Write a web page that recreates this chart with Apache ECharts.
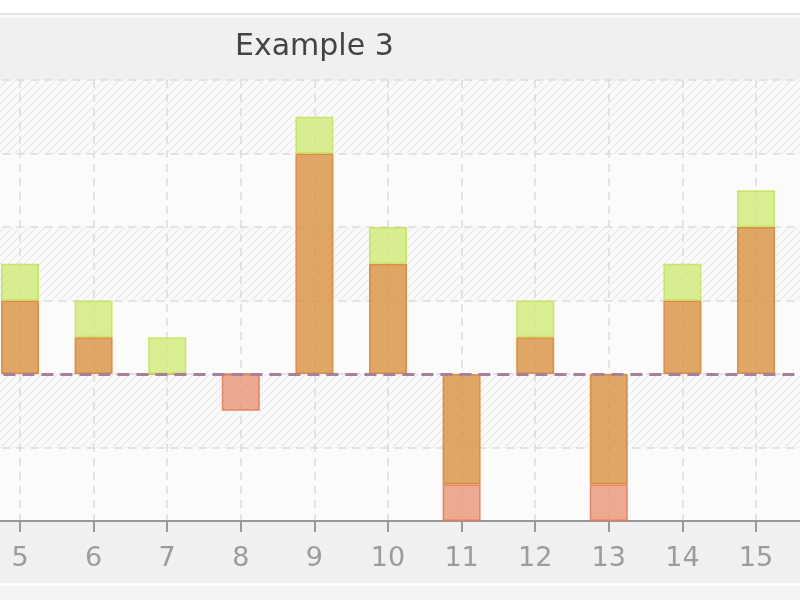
<!DOCTYPE html>
<html>
<head>
<meta charset="utf-8">
<script src="https://cdn.jsdelivr.net/npm/echarts@6/dist/echarts.min.js"></script>
<style>
html,body{margin:0;padding:0;background:#fff;}
#chart{width:800px;height:600px;}
</style>
</head>
<body>
<div id="chart"></div>
<script>
// ---- data (categories 4 and 16 fall outside the visible crop) ----
var categories = ['4', '5', '6', '7', '8', '9', '10', '11', '12', '13', '14', '15', '16'];
var seriesA = [null, 1, 0.5, 0, 0, 3, 1.5, -1.5, 0.5, -1.5, 1, 2, null];             // orange
var seriesB = [null, 0.5, 0.5, 0.5, null, 0.5, 0.5, null, 0.5, null, 0.5, 0.5, null]; // green
var seriesC = [null, null, null, null, -0.5, null, null, -0.5, null, -0.5, null, null, null]; // salmon
var titleText = 'Example 3';

// hatch pattern for alternate bands
var pc = document.createElement('canvas');
pc.width = 8; pc.height = 8;
var g = pc.getContext('2d');
g.fillStyle = '#fafafa';
g.fillRect(0, 0, 8, 8);
g.strokeStyle = '#e8e8e8';
g.lineWidth = 1.1;
g.beginPath();
g.moveTo(0, 8); g.lineTo(8, 0);
g.moveTo(-1, 1); g.lineTo(1, -1);
g.moveTo(7, 9); g.lineTo(9, 7);
g.stroke();

var chart = echarts.init(document.getElementById('chart'));
var dashGrid = { color: '#dcdcdc', width: 1.5, type: [8, 6] };

function barSeries(name, vals, color, border) {
  return {
    name: name,
    type: 'bar',
    stack: 'total',
    barWidth: 38,
    data: vals,
    itemStyle: { color: color, opacity: 0.85, borderColor: border, borderWidth: 1.5 },
    emphasis: { disabled: true },
    z: 2
  };
}

var s1 = barSeries('A', seriesA, '#d9964a', '#d9852e');
s1.markLine = {
  silent: true,
  symbol: 'none',
  label: { show: false },
  lineStyle: { color: '#a8809a', width: 3, type: [12, 7] },
  data: [{ yAxis: 0 }],
  z: 5
};

chart.setOption({
  backgroundColor: '#f0f0f0',
  animation: false,
  graphic: [
    { type: 'rect', shape: { x: 0, y: 0, width: 800, height: 13 }, style: { fill: '#ffffff' }, z: -10 },
    { type: 'rect', shape: { x: 0, y: 13, width: 800, height: 2 }, style: { fill: '#e4e4e4' }, z: -10 },
    { type: 'rect', shape: { x: 0, y: 15, width: 800, height: 3 }, style: { fill: '#f8f8f8' }, z: -10 },
    { type: 'rect', shape: { x: 0, y: 583, width: 800, height: 3 }, style: { fill: '#fcfcfc' }, z: -10 },
    { type: 'rect', shape: { x: 0, y: 586, width: 800, height: 14 }, style: { fill: '#f4f4f4' }, z: -10 }
  ],
  title: {
    text: titleText,
    left: 235,
    top: 32,
    padding: 0,
    textStyle: { fontFamily: 'DejaVu Sans', fontSize: 30, fontWeight: 'normal', color: '#444' }
  },
  grid: { left: -53.6, right: -29.6, top: 80, bottom: 79, containLabel: false, outerBoundsMode: 'none' },
  xAxis: {
    type: 'category',
    data: categories,
    boundaryGap: false,
    axisLine: { show: true, onZero: false, lineStyle: { color: '#999', width: 2 } },
    axisTick: { show: true, length: 11, interval: 0, lineStyle: { color: '#999', width: 2 } },
    axisLabel: { color: '#9c9c9c', fontSize: 27, fontFamily: 'DejaVu Sans', margin: 24, interval: 0 },
    splitLine: { show: true, interval: 0, lineStyle: dashGrid }
  },
  yAxis: {
    type: 'value',
    min: -2, max: 4, interval: 1,
    axisLine: { show: false },
    axisTick: { show: false },
    axisLabel: { show: false },
    splitLine: { show: true, lineStyle: dashGrid },
    splitArea: { show: true, areaStyle: { color: ['#fbfbfb', { image: pc, repeat: 'repeat' }] } }
  },
  series: [
    s1,
    barSeries('B', seriesB, '#d2ea7e', '#c4e25a'),
    barSeries('C', seriesC, '#ec9a7c', '#e07a52')
  ]
});
</script>
</body>
</html>
